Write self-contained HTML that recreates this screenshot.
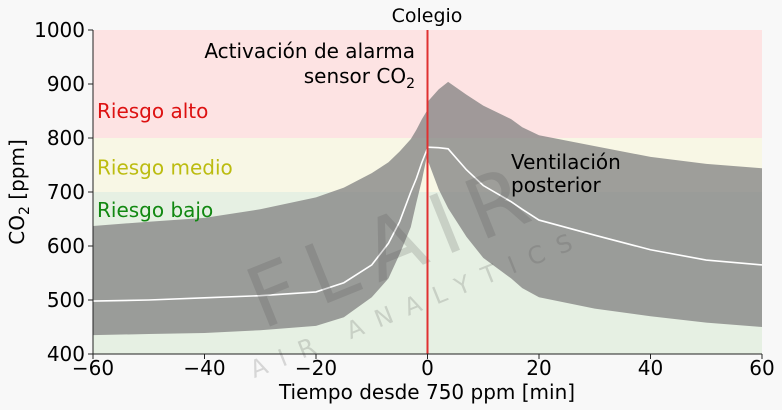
<!DOCTYPE html>
<html><head><meta charset="utf-8"><style>
body{margin:0;background:#f8f8f8;}
svg{display:block;font-family:"DejaVu Sans","Liberation Sans",sans-serif;}
</style></head><body>
<svg id="chart" width="782" height="410" viewBox="0 0 782 410" xmlns="http://www.w3.org/2000/svg">
<rect x="0" y="0" width="782" height="410" fill="#f8f8f8"/>
<g id="plot"></g>
</svg>
<script>
const times   = [-60,-50,-40,-30,-20,-15,-10,-7,-5,-3,-2,-1,0];
const upperL  = [637,645,652,668,690,708,735,755,775,798,815,835,852];
const medianL = [498,500,504,508,515,532,565,605,645,700,725,755,781];
const lowerL  = [435,437,439,444,452,468,505,540,585,635,680,722,772];
const timesR  = [0,2,3.7,7,10,15,17,20,30,40,50,60];
const upperR  = [867,890,904,880,860,835,820,805,785,765,752,744];
const medianR = [783,782,780,741,712,682,668,648,620,593,574,565];
const lowerR  = [760,705,670,617,578,540,522,505,484,470,458,450];
const xTicks  = [-60,-40,-20,0,20,40,60];
const yTicks  = [400,500,600,700,800,900,1000];
const zones = [{lo:800,hi:1000,c:"#fde3e3",label:"Riesgo alto",lc:"#dd1111",ly:850},
               {lo:700,hi:800,c:"#f8f7e5",label:"Riesgo medio",lc:"#bcbc10",ly:745},
               {lo:400,hi:700,c:"#e6f0e3",label:"Riesgo bajo",lc:"#118811",ly:667}];
const X0=93,X1=762,Y0=354,Y1=30;
const xs=v=>X0+(v+60)/120*(X1-X0);
const ys=v=>Y0-(v-400)/600*(Y0-Y1);
const NS="http://www.w3.org/2000/svg";
const g=document.getElementById('plot');
function mk(t,a,txt){const e=document.createElementNS(NS,t);for(const k in a)e.setAttribute(k,a[k]);if(txt!==undefined)e.textContent=txt;g.appendChild(e);return e;}
zones.forEach(z=>{
  const r=mk('rect',{x:X0,y:ys(z.hi),width:X1-X0,height:ys(z.lo)-ys(z.hi),fill:z.c});
  
  
});
function band(t,u,l,name){
  let d='M'+t.map((v,i)=>xs(v)+','+ys(u[i])).join(' L');
  for(let i=t.length-1;i>=0;i--)d+=' L'+xs(t[i])+','+ys(l[i]);
  const p=mk('path',{d:d+'Z',fill:'#808080','fill-opacity':0.75});
  
  
}
band(times,upperL,lowerL,'band-before');
band(timesR,upperR,lowerR,'band-after');
function line(t,v,name){
  const p=mk('polyline',{points:t.map((x,i)=>xs(x)+','+ys(v[i])).join(' '),fill:'none',stroke:'#ffffff','stroke-width':1.6});
  
  
}
line(times,medianL,'median-before');
line(timesR,medianR,'median-after');
const wm=mk('g',{transform:'translate(405,272) rotate(-22)',fill:'#505050','fill-opacity':0.2});


const w1=document.createElementNS(NS,'text');w1.setAttribute('x',0);w1.setAttribute('y',0);w1.setAttribute('text-anchor','middle');w1.setAttribute('font-size','84');w1.setAttribute('letter-spacing','14');w1.textContent='FLAIR';wm.appendChild(w1);
const w2=document.createElementNS(NS,'text');w2.setAttribute('x',0);w2.setAttribute('y',42);w2.setAttribute('text-anchor','middle');w2.setAttribute('font-size','24');w2.setAttribute('letter-spacing','14');w2.textContent='AIR ANALYTICS';wm.appendChild(w2);
const vl=mk('line',{x1:xs(0),x2:xs(0),y1:Y1,y2:Y0,stroke:'#e03030','stroke-width':2});


zones.forEach(z=>{
  const t=mk('text',{x:97,y:ys(z.ly)+7,fill:z.lc,'font-size':20},z.label);
  
  
});
const a1=mk('text',{x:415,y:58,'text-anchor':'end','font-size':20},'Activación de alarma');


const a2=mk('text',{x:415,y:83,'text-anchor':'end','font-size':20});


a2.innerHTML='sensor CO<tspan font-size="14" dy="5">2</tspan>';
const v1=mk('text',{x:511,y:169,'font-size':20},'Ventilación');


const v2=mk('text',{x:511,y:192,'font-size':20},'posterior');


const ax=mk('path',{d:`M${X0},${Y1} V${Y0} H${X1}`,fill:'none',stroke:'#222','stroke-width':1});


xTicks.forEach(v=>{
  const tk=mk('line',{x1:xs(v),x2:xs(v),y1:Y0,y2:Y0+5,stroke:'#222'});
  
  
  const t=mk('text',{x:xs(v),y:Y0+21,'text-anchor':'middle','font-size':20},(v<0?'\u2212':'')+Math.abs(v));
  
  
});
yTicks.forEach(v=>{
  const tk=mk('line',{x1:X0-5,x2:X0,y1:ys(v),y2:ys(v),stroke:'#222'});
  
  
  const t=mk('text',{x:X0-8,y:ys(v)+7,'text-anchor':'end','font-size':20},v);
  
  
});
const ttl=mk('text',{x:427,y:22,'text-anchor':'middle','font-size':19},'Colegio');


const xl=mk('text',{x:427,y:399,'text-anchor':'middle','font-size':20},'Tiempo desde 750 ppm [min]');


const yl=mk('text',{x:0,y:0,'text-anchor':'middle','font-size':20,transform:'translate(24,192) rotate(-90)'});


yl.innerHTML='CO<tspan font-size="14" dy="5">2</tspan><tspan dy="-5"> [ppm]</tspan>';
</script>
</body></html>
